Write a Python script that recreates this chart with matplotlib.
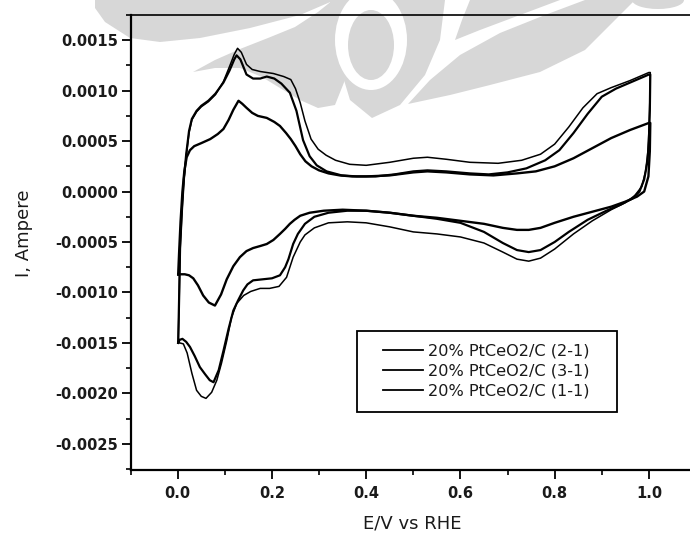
import numpy as np
import matplotlib
matplotlib.use("Agg")
import matplotlib.pyplot as plt
from matplotlib.ticker import MultipleLocator, FormatStrFormatter
from matplotlib.patches import Polygon, Ellipse, Rectangle

plt.rcParams['font.family'] = ['DejaVu Sans']

# ---- cyclic voltammograms: potential (V vs RHE) and current (A) ----
labels = ["20% PtCeO2/C (2-1)", "20% PtCeO2/C (3-1)", "20% PtCeO2/C (1-1)"]

# (2-1): anodic sweep
e21_fwd = [0.001, 0.003, 0.005, 0.009, 0.013, 0.018, 0.024, 0.030, 0.040, 0.050,
           0.065, 0.080, 0.097, 0.110, 0.120, 0.127, 0.135, 0.146, 0.158, 0.175,
           0.203, 0.225, 0.240, 0.250, 0.260, 0.270, 0.283, 0.298, 0.315, 0.335,
           0.365, 0.40, 0.45, 0.50, 0.53, 0.57, 0.62, 0.68, 0.73, 0.77,
           0.80, 0.83, 0.86, 0.89, 0.92, 0.96, 1.00]
i21_fwd = [-0.00150, -0.00110, -0.00060, -0.00020, 0.00010, 0.00035, 0.00058, 0.00071, 0.00079, 0.00084,
           0.00089, 0.00096, 0.00109, 0.00124, 0.00136, 0.00142, 0.00138, 0.00126, 0.00121, 0.00119,
           0.00117, 0.00114, 0.00111, 0.00102, 0.00088, 0.00070, 0.00052, 0.00042, 0.00036, 0.00031,
           0.00027, 0.00026, 0.00029, 0.00033, 0.00034, 0.00032, 0.00029, 0.00028, 0.00031, 0.00037,
           0.00047, 0.00064, 0.00083, 0.00097, 0.00103, 0.00110, 0.00118]
# (2-1): cathodic sweep
e21_rev = [1.003, 1.002, 1.000, 0.998, 0.993, 0.985, 0.970, 0.950, 0.920, 0.880,
           0.840, 0.800, 0.770, 0.745, 0.720, 0.690, 0.650, 0.600, 0.550, 0.500,
           0.450, 0.400, 0.360, 0.320, 0.290, 0.270, 0.260, 0.245, 0.231, 0.215,
           0.195, 0.175, 0.155, 0.140, 0.125, 0.114, 0.104, 0.093, 0.083, 0.072,
           0.060, 0.050, 0.040, 0.030, 0.020, 0.012, 0.004, 0.001]
i21_rev = [0.00118, 0.00090, 0.00060, 0.00040, 0.00020, 0.00005, -0.00004, -0.00011, -0.00018, -0.00029,
           -0.00042, -0.00057, -0.00066, -0.00069, -0.00067, -0.00060, -0.00051, -0.00045, -0.00042, -0.00040,
           -0.00035, -0.00031, -0.00030, -0.00031, -0.00036, -0.00043, -0.00050, -0.00065, -0.00085, -0.00094,
           -0.00096, -0.00096, -0.00099, -0.00103, -0.00111, -0.00125, -0.00148, -0.00170, -0.00187, -0.00199,
           -0.00205, -0.00203, -0.00197, -0.00180, -0.00160, -0.00151, -0.00150, -0.00150]

# (3-1): anodic sweep
e31_fwd = [0.001, 0.003, 0.005, 0.009, 0.013, 0.018, 0.024, 0.030, 0.040, 0.050,
           0.065, 0.080, 0.097, 0.110, 0.120, 0.125, 0.133, 0.146, 0.160, 0.175,
           0.189, 0.205, 0.220, 0.238, 0.252, 0.266, 0.280, 0.295, 0.316, 0.348,
           0.38, 0.42, 0.46, 0.50, 0.53, 0.57, 0.62, 0.66, 0.70, 0.74,
           0.78, 0.81, 0.84, 0.87, 0.90, 0.93, 0.96, 1.00]
i31_fwd = [-0.00150, -0.00105, -0.00055, -0.00018, 0.00012, 0.00037, 0.00060, 0.00072, 0.00080, 0.00085,
           0.00090, 0.00097, 0.00108, 0.00120, 0.00131, 0.00135, 0.00131, 0.00116, 0.00112, 0.00112,
           0.00114, 0.00112, 0.00107, 0.00098, 0.00080, 0.00051, 0.00035, 0.00026, 0.00020, 0.00016,
           0.00015, 0.00015, 0.00017, 0.00020, 0.00021, 0.00020, 0.00018, 0.00017, 0.00019, 0.00023,
           0.00031, 0.00041, 0.00058, 0.00077, 0.00094, 0.00102, 0.00108, 0.00116]
# (3-1): cathodic sweep
e31_rev = [1.003, 1.002, 1.000, 0.997, 0.990, 0.980, 0.965, 0.940, 0.910, 0.870,
           0.830, 0.800, 0.770, 0.745, 0.720, 0.690, 0.650, 0.600, 0.550, 0.500,
           0.450, 0.400, 0.360, 0.320, 0.290, 0.270, 0.255, 0.245, 0.235, 0.228,
           0.217, 0.200, 0.180, 0.160, 0.148, 0.139, 0.128, 0.118, 0.108, 0.097,
           0.087, 0.076, 0.068, 0.058, 0.047, 0.036, 0.026, 0.018, 0.010, 0.004, 0.001]
i31_rev = [0.00116, 0.00080, 0.00050, 0.00030, 0.00012, 0.00000, -0.00007, -0.00013, -0.00019, -0.00028,
           -0.00040, -0.00050, -0.00058, -0.00060, -0.00058, -0.00051, -0.00040, -0.00031, -0.00027, -0.00024,
           -0.00021, -0.00019, -0.00019, -0.00021, -0.00025, -0.00032, -0.00042, -0.00052, -0.00067, -0.00075,
           -0.00083, -0.00086, -0.00087, -0.00088, -0.00092, -0.00098, -0.00108, -0.00118, -0.00136, -0.00158,
           -0.00177, -0.00189, -0.00187, -0.00181, -0.00174, -0.00163, -0.00154, -0.00149, -0.00146, -0.00147, -0.00150]

# (1-1): anodic sweep
e11_fwd = [0.001, 0.003, 0.006, 0.010, 0.014, 0.019, 0.026, 0.035, 0.050, 0.069,
           0.085, 0.097, 0.108, 0.118, 0.129, 0.137, 0.146, 0.158, 0.170, 0.189,
           0.205, 0.217, 0.230, 0.240, 0.250, 0.260, 0.271, 0.284, 0.300, 0.320,
           0.344, 0.37, 0.40, 0.45, 0.50, 0.53, 0.57, 0.62, 0.67, 0.72,
           0.76, 0.80, 0.84, 0.88, 0.92, 0.96, 1.00]
i11_fwd = [-0.00082, -0.00060, -0.00030, 0.00000, 0.00020, 0.00034, 0.00041, 0.00045, 0.00048, 0.00052,
           0.00057, 0.00062, 0.00071, 0.00081, 0.00090, 0.00087, 0.00083, 0.00078, 0.00075, 0.00073,
           0.00069, 0.00065, 0.00058, 0.00052, 0.00045, 0.00037, 0.00030, 0.00025, 0.00021, 0.00018,
           0.00016, 0.00015, 0.00015, 0.00016, 0.00019, 0.00020, 0.00019, 0.00017, 0.00016, 0.00018,
           0.00020, 0.00025, 0.00033, 0.00043, 0.00053, 0.00061, 0.00068]
# (1-1): cathodic sweep
e11_rev = [1.003, 1.002, 0.999, 0.990, 0.975, 0.950, 0.920, 0.880, 0.840, 0.800,
           0.770, 0.745, 0.720, 0.690, 0.650, 0.600, 0.550, 0.500, 0.450, 0.400,
           0.350, 0.310, 0.280, 0.260, 0.248, 0.238, 0.228, 0.217, 0.203, 0.189,
           0.175, 0.160, 0.146, 0.132, 0.118, 0.104, 0.092, 0.079, 0.066, 0.054,
           0.043, 0.033, 0.024, 0.015, 0.001]
i11_rev = [0.00068, 0.00040, 0.00015, 0.00000, -0.00005, -0.00010, -0.00015, -0.00020, -0.00025, -0.00031,
           -0.00036, -0.00038, -0.00038, -0.00036, -0.00032, -0.00029, -0.00026, -0.00024, -0.00021, -0.00019,
           -0.00018, -0.00019, -0.00021, -0.00024, -0.00028, -0.00032, -0.00037, -0.00042, -0.00048, -0.00052,
           -0.00054, -0.00056, -0.00059, -0.00065, -0.00074, -0.00087, -0.00102, -0.00113, -0.00110, -0.00103,
           -0.00093, -0.00086, -0.00083, -0.00082, -0.00082]

W, H = 690, 533
fig = plt.figure(figsize=(W / 100, H / 100), dpi=100)


def px(x, y):
    """Pixel position (origin top-left) -> figure fraction."""
    return (x / W, 1 - y / H)


# faint background emblem
wm = "#d7d7d7"
emblem = [
    [(95, 0), (335, 0), (300, 15), (250, 28), (200, 38), (160, 42), (130, 38), (105, 22), (95, 8)],
    [(193, 72), (215, 60), (240, 49), (268, 38), (295, 27), (318, 12), (333, 0), (360, 0),
     (352, 40), (345, 80), (335, 105), (318, 108), (300, 100), (280, 88), (262, 77), (240, 68), (215, 68)],
    [(330, 0), (445, 0), (440, 40), (425, 75), (400, 105), (372, 118), (350, 100), (338, 60)],
    [(408, 104), (430, 80), (460, 55), (500, 33), (545, 15), (585, 0), (635, 0), (615, 20),
     (585, 50), (540, 72), (490, 85), (450, 95)],
    [(470, 0), (560, 0), (520, 15), (480, 30), (455, 40), (462, 20)],
]
for poly in emblem:
    fig.add_artist(Polygon([px(x, y) for x, y in poly], closed=True, facecolor=wm,
                           edgecolor="none", transform=fig.transFigure, zorder=-2))
fig.add_artist(Ellipse(px(371, 40), 72 / W, 100 / H, facecolor="white", edgecolor="none",
                       transform=fig.transFigure, zorder=-1.5))
fig.add_artist(Ellipse(px(371, 45), 46 / W, 70 / H, facecolor=wm, edgecolor="none",
                       transform=fig.transFigure, zorder=-1.4))
fig.add_artist(Ellipse(px(658, 0), 52 / W, 18 / H, facecolor=wm, edgecolor="none",
                       transform=fig.transFigure, zorder=-1.4))

# axes: x -0.1..1.1 spans pixels 130.6..696, y spans 15..470
ax = fig.add_axes([130.6 / W, 1 - 470 / H, (696 - 130.6) / W, (470 - 15) / H])
ax.set_facecolor("none")

series = [
    (labels[0], e21_fwd + e21_rev, i21_fwd + i21_rev, 1.1),
    (labels[1], e31_fwd + e31_rev, i31_fwd + i31_rev, 1.6),
    (labels[2], e11_fwd + e11_rev, i11_fwd + i11_rev, 1.7),
]
for lab, e, i, lw in series:
    ax.plot(e, i, color="black", lw=lw, label=lab, solid_joinstyle="round")

ax.set_xlim(-0.1, 1.1)
ax.set_ylim(-0.00276, 0.00175)
ax.xaxis.set_major_locator(MultipleLocator(0.2))
ax.xaxis.set_minor_locator(MultipleLocator(0.1))
ax.yaxis.set_major_locator(MultipleLocator(0.0005))
ax.yaxis.set_minor_locator(MultipleLocator(0.00025))
ax.xaxis.set_major_formatter(FormatStrFormatter("%.1f"))
ax.yaxis.set_major_formatter(FormatStrFormatter("%.4f"))

ax.tick_params(which="major", direction="out", length=6.5, width=1.3, labelsize=10.5,
               color="black", labelcolor="#1a1a1a")
ax.tick_params(axis="y", which="major", pad=2.5)
ax.tick_params(axis="x", which="major", pad=5)
ax.tick_params(which="minor", direction="out", length=3.5, width=1.2)
ax.tick_params(top=False, right=False, which="both")
for lbl in ax.get_xticklabels() + ax.get_yticklabels():
    lbl.set_fontweight("bold")

for side in ("left", "bottom"):
    ax.spines[side].set_linewidth(1.6)
ax.spines["top"].set_linewidth(1.2)
ax.spines["right"].set_visible(False)

ax.set_xlabel("E/V vs RHE", fontsize=13, color="#1a1a1a")
ax.set_ylabel("I, Ampere", fontsize=13, color="#1a1a1a")
ax.xaxis.set_label_coords(0.4986, -0.098)
ax.yaxis.set_label_coords(-0.172, 0.52)

# legend inside a square frame
leg_box = (357.3, 330.7, 616.7, 411.7)
frame = Rectangle(px(leg_box[0], leg_box[3]), (leg_box[2] - leg_box[0]) / W,
                  (leg_box[3] - leg_box[1]) / H, transform=fig.transFigure,
                  facecolor="white", edgecolor="black", lw=1.3, zorder=3, clip_on=False)
ax.add_patch(frame)
leg = ax.legend(loc="center",
                bbox_to_anchor=px((leg_box[0] + leg_box[2]) / 2 - 1, (leg_box[1] + leg_box[3]) / 2),
                bbox_transform=fig.transFigure, frameon=False, fontsize=11.6,
                handlelength=2.5, handletextpad=0.3, labelspacing=0.3, borderpad=0)
for line in leg.get_lines():
    line.set_linewidth(1.3)
for t in leg.get_texts():
    t.set_color("#1a1a1a")
leg.set_zorder(5)

fig.savefig("out.png", dpi=100)
